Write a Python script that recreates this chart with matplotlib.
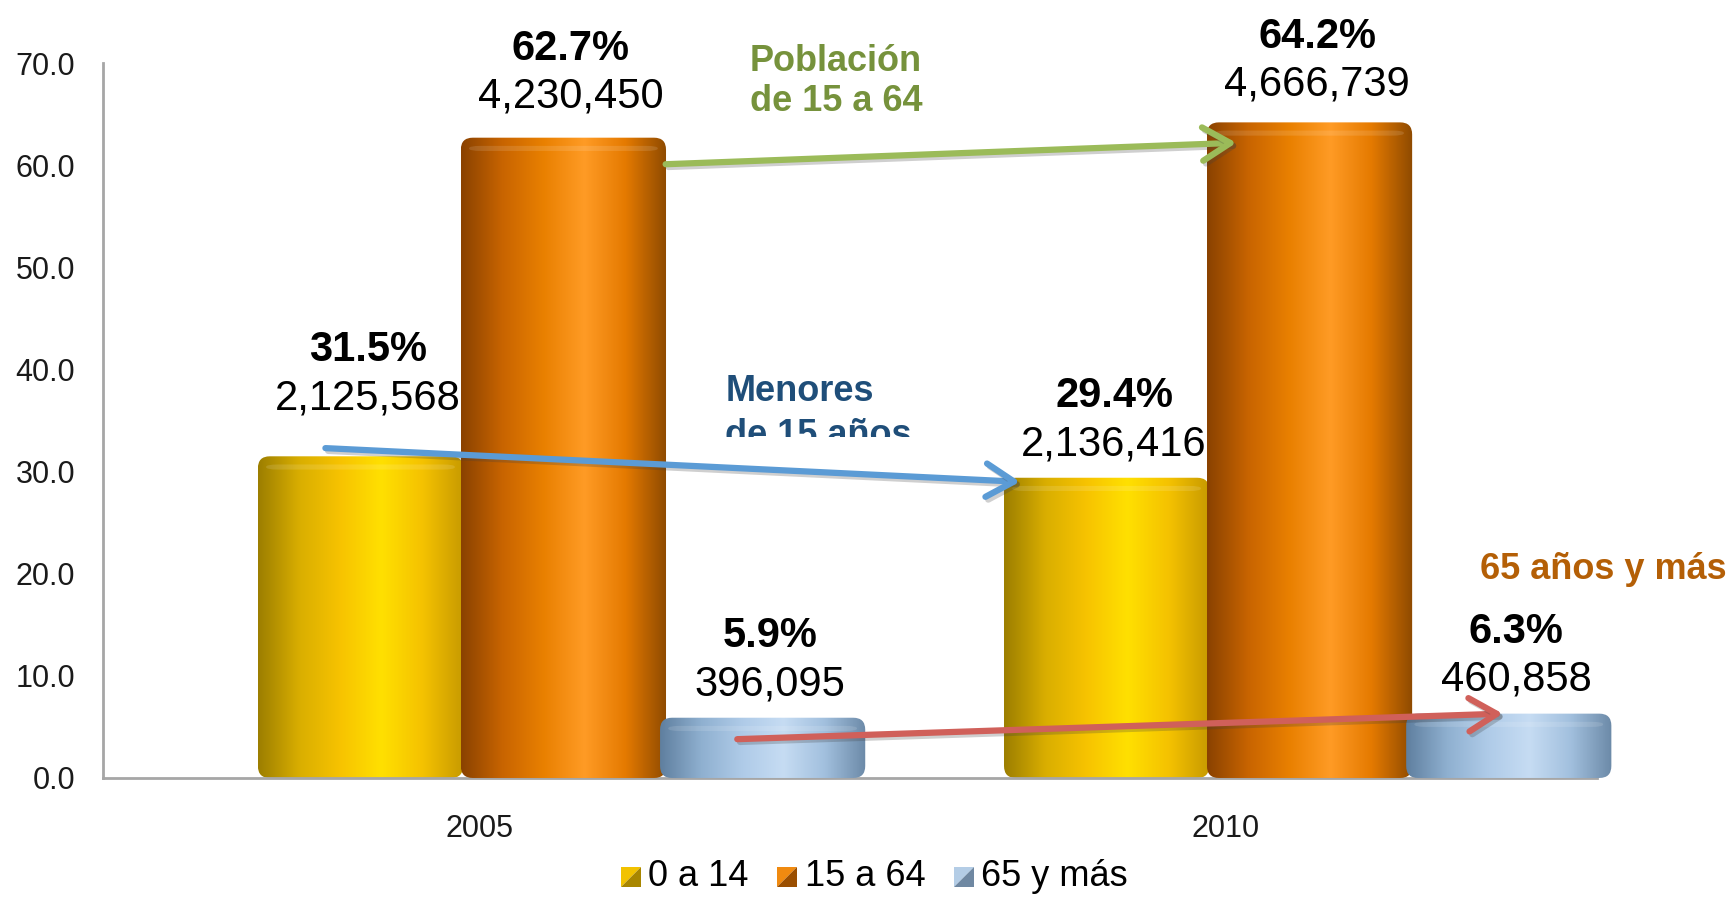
import numpy as np
import matplotlib
matplotlib.use("Agg")
import matplotlib.pyplot as plt
import matplotlib.patheffects as pe
from matplotlib.patches import FancyBboxPatch, Rectangle, Polygon, Patch
from matplotlib.legend_handler import HandlerBase
from matplotlib.colors import LinearSegmentedColormap

plt.rcParams["font.family"] = ["Liberation Sans", "DejaVu Sans"]

# --- data ---
years = ["2005", "2010"]
groups = ["0 a 14", "15 a 64", "65 y más"]
pct_0_14 = [31.5, 29.4]
pct_15_64 = [62.7, 64.2]
pct_65 = [5.9, 6.3]
pop_0_14 = [2125568, 2136416]
pop_15_64 = [4230450, 4666739]
pop_65 = [396095, 460858]

# --- layout / style ---
OFFSETS = [-0.272, 0.0, 0.267]
BAR_W = 0.275
TICK_SHIFT = -0.113
LABEL_LIFT = [[2.4, 0.0], [0.7, 0.4], [0.0, 0.0]]  # extra label height per bar
GRADIENTS = [
    ["#9C7E00", "#D9AE00", "#F7C300", "#FFE000", "#F5C200", "#C79A00"],
    ["#8A4200", "#C86400", "#E98000", "#FF9B25", "#E57A00", "#8E4A00"],
    ["#5F7F9F", "#8FB0D0", "#AFCBE8", "#C6DCF3", "#A2C0DE", "#6C8AA8"],
]
LEGEND_COLORS = [("#F2C200", "#A88600"), ("#F08A10", "#9A4E00"),
                 ("#B4CDE6", "#6F88A2")]


class TriangleHandler(HandlerBase):
    """Square legend key split along the diagonal, light top-left."""
    def create_artists(self, legend, orig, xd, yd, w, h, fs, trans):
        s = min(w, h)
        x0, y0 = xd + (w - s) / 2, yd + (h - s) / 2
        t1 = Polygon([[x0, y0], [x0, y0 + s], [x0 + s, y0 + s]],
                     closed=True, fc=orig.light, ec="none", transform=trans)
        t2 = Polygon([[x0, y0], [x0 + s, y0], [x0 + s, y0 + s]],
                     closed=True, fc=orig.dark, ec="none", transform=trans)
        return [t1, t2]


def main():
    fig = plt.figure(figsize=(17.35, 9.02), dpi=100)
    ax = fig.add_axes([0.0594, 0.1375, 0.876, 0.7925])

    x = np.arange(len(years), dtype=float)
    series = [pct_0_14, pct_15_64, pct_65]
    pops = [pop_0_14, pop_15_64, pop_65]

    # x units -> ~746 px, y units -> ~10.2 px; keep corners circular
    rx = 0.016
    aspect = (12 / 10.2) / rx

    for i, (vals, off) in enumerate(zip(series, OFFSETS)):
        bars = ax.bar(x + off, vals, BAR_W, color="none", edgecolor="none",
                      zorder=2 + i)
        cmap = LinearSegmentedColormap.from_list(f"g{i}", GRADIENTS[i])
        grad = cmap(np.linspace(0, 1, 256))[None, :, :3]
        for rect in bars:
            bx, by = rect.get_x(), rect.get_y()
            bw, bh = rect.get_width(), rect.get_height()
            shape = FancyBboxPatch((bx, by), bw, bh,
                                   boxstyle=f"round,pad=0,rounding_size={rx}",
                                   mutation_aspect=aspect,
                                   fc="none", ec="none", zorder=2 + i)
            ax.add_patch(shape)
            im = ax.imshow(grad, extent=[bx, bx + bw, by, by + bh],
                           aspect="auto", zorder=2 + i, interpolation="bilinear")
            im.set_clip_path(shape)
            # faint highlight near the top of the cylinder
            cap = FancyBboxPatch((bx + bw * 0.04, by + bh - 1.3), bw * 0.92, 0.5,
                                 boxstyle=f"round,pad=0,rounding_size={rx}",
                                 mutation_aspect=aspect * 0.2,
                                 fc="white", ec="none", alpha=0.12,
                                 zorder=2 + i)
            ax.add_patch(cap)

        for j, (xi, v, p) in enumerate(zip(x + off, vals, pops[i])):
            lift = LABEL_LIFT[i][j]
            ax.text(xi + 0.01, v + 3.3 + lift, f"{p:,}", ha="center",
                    va="center", fontsize=30, color="black", zorder=10)
            ax.text(xi + 0.01, v + 8.0 + lift, f"{v:.1f}%", ha="center",
                    va="center", fontsize=30, fontweight="bold",
                    color="black", zorder=10)

    ax.set_xlim(-0.617, 1.42)
    ax.set_ylim(0, 70)
    ax.set_yticks(np.arange(0, 71, 10))
    ax.set_yticklabels([f"{t:.1f}" for t in np.arange(0, 71, 10)])
    ax.set_xticks(x + TICK_SHIFT, years)
    ax.tick_params(axis="y", length=0, pad=20, labelsize=22, labelcolor="#1a1a1a")
    ax.tick_params(axis="x", length=0, pad=26, labelsize=22, labelcolor="#1a1a1a")
    for side in ("top", "right"):
        ax.spines[side].set_visible(False)
    for side in ("left", "bottom"):
        ax.spines[side].set_color("#A6A6A6")
        ax.spines[side].set_linewidth(2)
    ax.spines["bottom"].set_bounds(-0.617, 1.385)

    # trend arrows between the two years
    shadow = [pe.SimpleLineShadow(offset=(2, -2), alpha=0.25,
                                  shadow_color="#404040"), pe.Normal()]
    arrows = [
        ((0.137, 60.1), (0.902, 62.2), "#9BBB59"),
        ((-0.319, 32.3), (0.612, 29.0), "#5B9BD5"),
        ((0.233, 3.8), (1.259, 6.3), "#D0605A"),
    ]
    for start, end, col in arrows:
        ann = ax.annotate("", xy=end, xytext=start, zorder=9,
                          arrowprops=dict(arrowstyle="->,head_length=1.0,head_width=0.6",
                                          lw=4.5, color=col, mutation_scale=20,
                                          shrinkA=0, shrinkB=0))
        ann.arrow_patch.set_path_effects(shadow)

    ax.text(0.250, 68.2, "Población\nde 15 a 64", ha="left", va="center",
            fontsize=26, fontweight="bold", color="#76923C",
            linespacing=1.2, zorder=10)
    ax.text(0.217, 37.8, "Menores", ha="left", va="center",
            fontsize=26, fontweight="bold", color="#1F4E79", zorder=10)
    t2 = ax.text(0.217, 33.5, "de 15 años", ha="left", va="center",
                 fontsize=26, fontweight="bold", color="#1F4E79", zorder=10,
                 clip_on=True)
    t2.set_clip_path(Rectangle((0, 1 - 437 / 902), 1, 1, transform=fig.transFigure))
    ax.text(1.229, 20.4, "65 años y más", ha="left", va="center",
            fontsize=26, fontweight="bold", color="#B45F06", zorder=10)

    handles = []
    for light, dark in LEGEND_COLORS:
        h = Patch(fc=light)
        h.light, h.dark = light, dark
        handles.append(h)
    fig.legend(handles, groups, loc="lower center", bbox_to_anchor=(0.504, -0.027),
               ncol=3, frameon=False, fontsize=26, handlelength=0.55,
               handleheight=0.55, handletextpad=0.2, columnspacing=0.8,
               handler_map={Patch: TriangleHandler()})

    fig.savefig("out.png", dpi=100)


if __name__ == "__main__":
    main()
